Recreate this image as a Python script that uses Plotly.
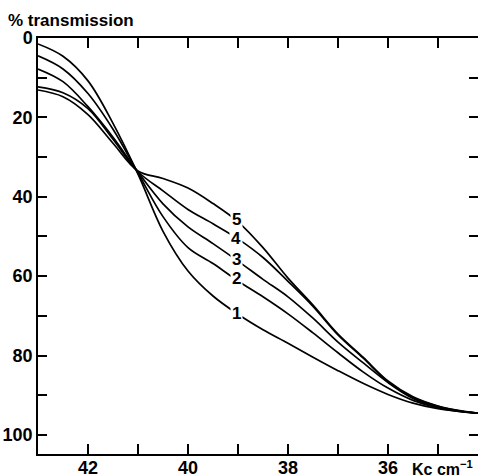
import plotly.graph_objects as go

# wavenumber (kilo-cm^-1)
wavenumber = [43.0, 42.5, 42.0, 41.5, 41.0, 40.5, 40.0, 39.5, 39.0, 38.5, 38.0,
              37.5, 37.0, 36.5, 36.0, 35.5, 35.0, 34.5, 34.2]

# % transmission for curves 1..5
curve1 = [1.5, 4.6, 10.8, 21.5, 34.3, 48.7, 58.7, 65.0, 69.6, 73.5, 76.9,
          80.4, 83.8, 87.0, 89.8, 92.0, 93.4, 94.2, 94.5]
curve2 = [4.5, 7.8, 14.0, 23.0, 34.0, 45.0, 52.8, 56.8, 61.2, 65.2, 69.5,
          74.3, 79.3, 84.1, 88.2, 91.3, 93.2, 94.2, 94.5]
curve3 = [7.8, 11.0, 17.3, 25.0, 33.8, 41.8, 47.6, 51.8, 56.2, 60.8, 65.2,
          70.6, 76.6, 81.8, 86.8, 90.8, 93.0, 94.1, 94.5]
curve4 = [12.3, 13.8, 17.8, 25.5, 33.7, 38.5, 43.2, 46.8, 50.6, 55.3, 61.3,
          67.6, 74.8, 80.6, 86.6, 90.6, 92.8, 94.1, 94.5]
curve5 = [13.1, 14.8, 19.3, 26.5, 33.5, 35.4, 37.8, 41.7, 46.3, 52.8, 60.5,
          67.3, 74.6, 80.4, 86.4, 90.4, 92.7, 94.0, 94.5]

curves = [curve1, curve2, curve3, curve4, curve5]
curve_names = ["1", "2", "3", "4", "5"]
label_x = 39.04
label_y = [69.3, 60.7, 55.7, 50.6, 45.6]

x_labelvals = [42, 40, 38, 36]
x_labeltext = ["42", "40", "38", "36"]
y_tickvals = [0, 20, 40, 60, 80, 100]
y_ticktext = ["0", "20", "40", "60", "80", "100"]

FONT = "Liberation Sans, Arial, DejaVu Sans"

fig = go.Figure()
for name, ys in zip(curve_names, curves):
    fig.add_trace(go.Scatter(
        x=wavenumber, y=ys, mode="lines", name=name,
        line=dict(color="black", width=1.7, shape="spline", smoothing=1.0),
        showlegend=False, hoverinfo="skip"))

for name, ly in zip(curve_names, label_y):
    fig.add_annotation(x=label_x, y=ly, text="<b>" + name + "</b>", showarrow=False,
                       font=dict(family=FONT, size=17, color="black"),
                       bgcolor="white", borderpad=1, xanchor="center", yanchor="middle")

for xv, xt in zip(x_labelvals, x_labeltext):
    fig.add_annotation(x=xv, xref="x", yref="paper", y=-0.034,
                       text="<b>" + xt + "</b>", showarrow=False,
                       font=dict(family=FONT, size=18, color="black"),
                       xanchor="center", yanchor="middle", borderpad=0)

fig.add_annotation(xref="paper", yref="paper", x=0.92, y=-0.034,
                   text="<b>Kc cm<sup>−1</sup></b>", showarrow=False,
                   font=dict(family=FONT, size=16, color="black"),
                   xanchor="center", yanchor="middle", borderpad=0)
fig.add_annotation(xref="paper", yref="paper", x=-0.072, y=1.041,
                   text="<b>% transmission</b>", showarrow=False,
                   font=dict(family=FONT, size=17, color="black"),
                   xanchor="left", yanchor="middle")

fig.update_layout(
    width=478, height=475,
    margin=dict(l=38, r=0, t=38, b=21, autoexpand=False),
    plot_bgcolor="white", paper_bgcolor="white",
    font=dict(family=FONT, size=17, color="black"),
    xaxis=dict(range=[43, 34.2], tickvals=[42, 41, 40, 39, 38, 37, 36, 35],
               showticklabels=False, automargin=False,
               ticks="inside", ticklen=10, tickwidth=1.5, tickcolor="black",
               showline=True, linecolor="black", linewidth=1.5, mirror="ticks",
               showgrid=False, zeroline=False),
    yaxis=dict(range=[104.8, 0], tickvals=y_tickvals, ticktext=y_ticktext,
               automargin=False,
               ticks="inside", ticklen=9, tickwidth=1.5, tickcolor="black",
               ticklabelstandoff=0,
               minor=dict(tickvals=[10, 30, 50, 70, 90], ticks="inside", ticklen=9,
                          tickwidth=1.5, tickcolor="black"),
               showline=True, linecolor="black", linewidth=1.5, mirror="ticks",
               showgrid=False, zeroline=False,
               tickfont=dict(family=FONT, size=18, color="black", weight="bold")),
)

fig.write_html("out.html", config={"displayModeBar": False},
               post_script="document.body.style.margin='0px';document.body.style.overflow='hidden';")
